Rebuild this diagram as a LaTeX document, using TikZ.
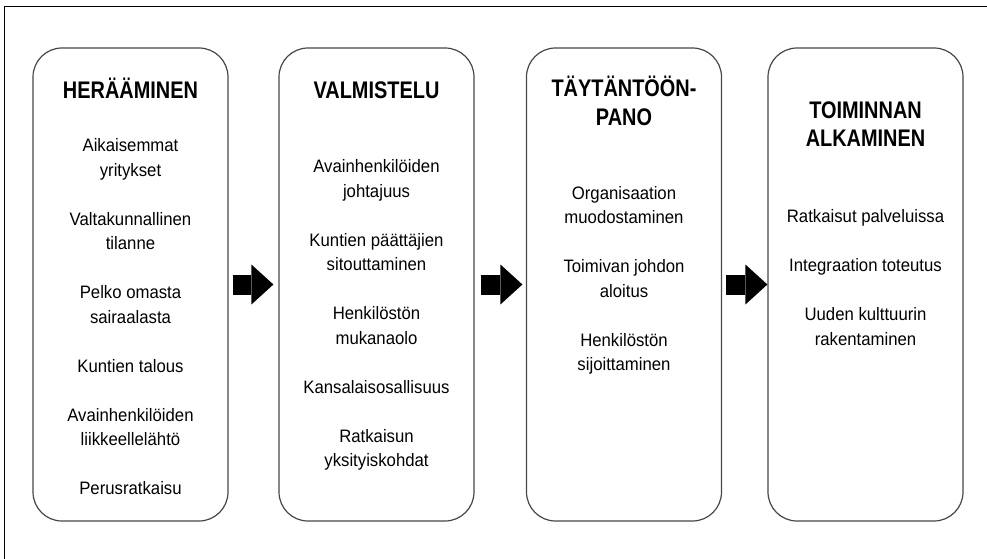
\documentclass[tikz,border=0pt]{standalone}
\usepackage{fontspec}
\setmainfont{Liberation Sans}
\newfontfamily\headfont[FakeStretch=0.83]{Liberation Sans}
\newfontfamily\itemfont[FakeStretch=0.93]{Liberation Sans}
\usetikzlibrary{arrows.meta, positioning}

\begin{document}
\begin{tikzpicture}[
		x=1pt, y=-1pt,
		every node/.style={inner sep=0pt},
		phase/.style={draw=black!72, line width=1.2pt, rounded corners=29pt, minimum width=195pt, minimum height=473pt},
		head/.style={align=center, font=\headfont\bfseries\fontsize{24}{28.5}\selectfont},
		items/.style={align=center, font=\itemfont\fontsize{18}{24.5}\selectfont},
		flow/.style={line width=20pt, -{Triangle[length=22pt, width=40pt, line width=0pt]}},
		]
		
		\useasboundingbox (0,0) rectangle (987,559);
		\draw[line width=1.8pt] (4.5,580) |- (1000,6.5);
		
		\node[phase] (heraa) at (130.5,284.5) {};
		\node[phase] (valm) at (376.5,284.5) {};
		\node[phase] (tayt) at (624,284.5) {};
		\node[phase] (toim) at (865.5,284.5) {};
		
		\node[head, below=30pt of heraa.north] (heraa-t) {HERÄÄMINEN};
		\node[head, below=33.7pt of valm.north] (valm-t) {VALMISTELU};
		\node[head, below=28.7pt of tayt.north] (tayt-t) {TÄYTÄNTÖÖN-\\PANO};
		\node[head, below=53.7pt of toim.north] (toim-t) {TOIMINNAN\\ALKAMINEN};
		
		\node[items, below=91pt of heraa.north] (heraa-b) {Aikaisemmat\\yritykset\\[24.5pt]
			Valtakunnallinen\\tilanne\\[24.5pt]
			Pelko omasta\\sairaalasta\\[24.5pt]
			Kuntien talous\\[24.5pt]
			Avainhenkilöiden\\liikkeellelähtö\\[24.5pt]
			Perusratkaisu};
		\node[items, below=112pt of valm.north] (valm-b) {Avainhenkilöiden\\johtajuus\\[24.5pt]
			Kuntien päättäjien\\sitouttaminen\\[24.5pt]
			Henkilöstön\\mukanaolo\\[24.5pt]
			Kansalaisosallisuus\\[24.5pt]
			Ratkaisun\\yksityiskohdat};
		\node[items, below=138.7pt of tayt.north] (tayt-b) {Organisaation\\muodostaminen\\[24.5pt]
			Toimivan johdon\\aloitus\\[24.5pt]
			Henkilöstön\\sijoittaminen};
		\node[items, below=162pt of toim.north] (toim-b) {Ratkaisut palveluissa\\[24.5pt]
			Integraation toteutus\\[24.5pt]
			Uuden kulttuurin\\rakentaminen};
		
		\draw[flow, shorten <=4pt, shorten >=5pt] (heraa) -- (valm);
		\draw[flow, shorten <=6pt, shorten >=3.5pt] (valm) -- (tayt);
		\draw[flow, shorten <=3.5pt] (tayt) -- (toim);
		
	\end{tikzpicture}
\end{document}
